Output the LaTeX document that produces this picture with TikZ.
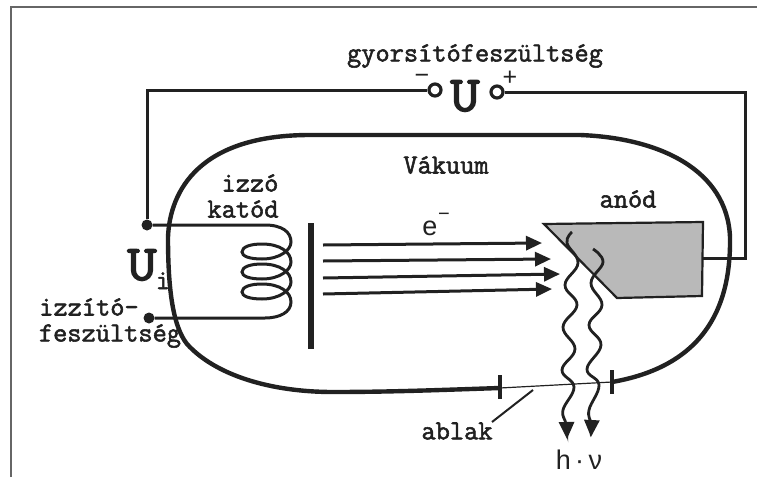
\documentclass[tikz,border=0pt]{standalone}
\usepackage{fontspec}
\usepackage{tikz}
\usetikzlibrary{arrows.meta}
\newfontfamily\plainsans{Liberation Sans}
\newfontfamily\slabfont[FakeBold=2]{Latin Modern Mono}
\newfontfamily\slabbig[FakeBold=3,FakeStretch=1.15]{Latin Modern Mono}
\definecolor{ink}{gray}{0.13}
\tikzset{
  label text/.style={font=\slabfont\fontsize{27.6}{28}\selectfont, inner sep=0pt, text=ink},
  big text/.style={font=\slabbig\fontsize{50}{50}\selectfont, inner sep=0pt, text=ink},
  thin text/.style={font=\plainsans\fontsize{27}{28}\selectfont, inner sep=0pt, text=ink},
  sign text/.style={font=\plainsans\fontsize{25}{25}\selectfont, inner sep=0pt, text=ink, text height=1pt, text depth=0pt},
  wire/.style={draw=ink, line width=3pt},
  tube/.style={draw=ink, line width=4.4pt},
  ray/.style={draw=ink, line width=3pt, -{Triangle[length=16pt,width=14pt]}},
  wave/.style={draw=ink, line width=2.8pt},
  endpoint/.style={circle, fill=ink, inner sep=0pt, minimum size=11pt},
  socket/.style={circle, draw=ink, fill=white, line width=3.2pt, inner sep=0pt, minimum size=12pt}
}
\begin{document}
\begin{tikzpicture}[x=1pt, y=-1pt]
  \useasboundingbox (0,0) rectangle (757,477);
  % Frame
  \draw[gray!80!black, line width=2pt] (11,477) -- (11,7) -- (757,7);
  % Anode
  \draw[ink, fill=gray!55, line width=2.2pt] (544,224) -- (703,222) -- (702,296) -- (617,298) -- cycle;
  % Tube wall with the thin window
  \draw[tube] (500,388) .. controls (440,390) and (390,392) .. (333,392)
    .. controls (270,392) and (215,375) .. (187,344)
    .. controls (172,325) and (168,285) .. (168,237)
    .. controls (170,190) and (200,135) .. (310,135)
    -- (580,135)
    .. controls (660,138) and (727,170) .. (730,237)
    .. controls (731,300) and (710,365) .. (612,382);
  \draw[ink, line width=1.2pt] (500,388) -- (612,382);
  \draw[ink, line width=4pt] (500,375) -- (500,399);
  \draw[ink, line width=4pt] (612,370) -- (612,394);
  % Terminals
  \node[endpoint] (topend) at (147,225) {};
  \node[endpoint] (lowend) at (149,318) {};
  \node[socket] (minus) at (435,90) {};
  \node[socket] (plus) at (497,92) {};
  \coordinate (anodeout) at (702,258);
  % Wires
  \draw[wire] (topend) |- (minus);
  \draw[wire] (plus) -- (745,92) |- (anodeout);
  % Heating coil
  \draw[wire] (topend) -- (265,225) .. controls (282,225) and (291,232) .. (291,242)
    \foreach \y in {242,262,282} {
      .. controls (291,\y+8) and (280,\y+17) .. (262,\y+17)
      .. controls (249,\y+17) and (242,\y+14) .. (242,\y+10)
      .. controls (242,\y+5) and (250,\y+2) .. (262,\y+2)
      .. controls (280,\y+2) and (291,\y+10) .. (291,\y+20)
    }
    .. controls (291,312) and (280,318) .. (265,318) -- (lowend);
  % Cathode plate
  \draw[ink, line width=5.5pt] (311,223) -- (311,349);
  % Electron beam
  \coordinate (tipa) at (542,243);
  \coordinate (tipb) at (551,259);
  \coordinate (tipc) at (560,274);
  \coordinate (tipd) at (552,289);
  \draw[ray] (323,245) -- (tipa);
  \draw[ray] (323,261) -- (tipb);
  \draw[ray] (323,278) -- (tipc);
  \draw[ray] (323,294) -- (tipd);
  % Photons
  \draw[wave, -{Triangle[length=17pt,width=15pt]}] plot[smooth, tension=0.7] coordinates {(572,232) (567,243) (578,263) (565,285) (577,305) (563,327) (575,349) (562,370) (574,387) (563,410) (566,424) (567,439)};
  \draw[wave, -{Triangle[length=17pt,width=15pt]}] plot[smooth, tension=0.7] coordinates {(593,249) (603,262) (591,283) (602,305) (589,325) (601,345) (587,369) (599,385) (589,410) (591,424) (591,437)};
  % Labels
  \node[label text] (gyors) at (475,56) {gyorsítófeszültség};
  \node[sign text] (minuslabel) at (422,83) {−};
  \node[sign text] (pluslabel) at (510,85) {+};
  \node[big text] (ubig) at (465,96) {U};
  \node[label text] (vakuum) at (446,165) {Vákuum};
  \node[label text] (anod) at (628,199) {anód};
  \node[label text] (izzo) at (250,183) {izzó};
  \node[label text] (katod) at (243,209) {katód};
  \node[big text, anchor=base west] (ui) at (127,280) {U\kern-1pt\raisebox{-9pt}{\slabfont\fontsize{27.6}{28}\selectfont i}};
  \node[label text] (izzito) at (89,307) {izzító-};
  \node[label text] (fesz) at (110,336) {feszültség};
  \node[thin text] (elec) at (430,228) {e};
  \node[thin text, font=\plainsans\fontsize{20}{20}\selectfont] (elecminus) at (444,217) {−};
  \node[thin text] (hnu) at (579,460) {h\,·\,ν};
  \node[label text] (ablak) at (457,431) {ablak};
  \coordinate (windowpoint) at (533,390);
  \draw[ink, line width=2pt] (492,422) -- (windowpoint);
\end{tikzpicture}
\end{document}
